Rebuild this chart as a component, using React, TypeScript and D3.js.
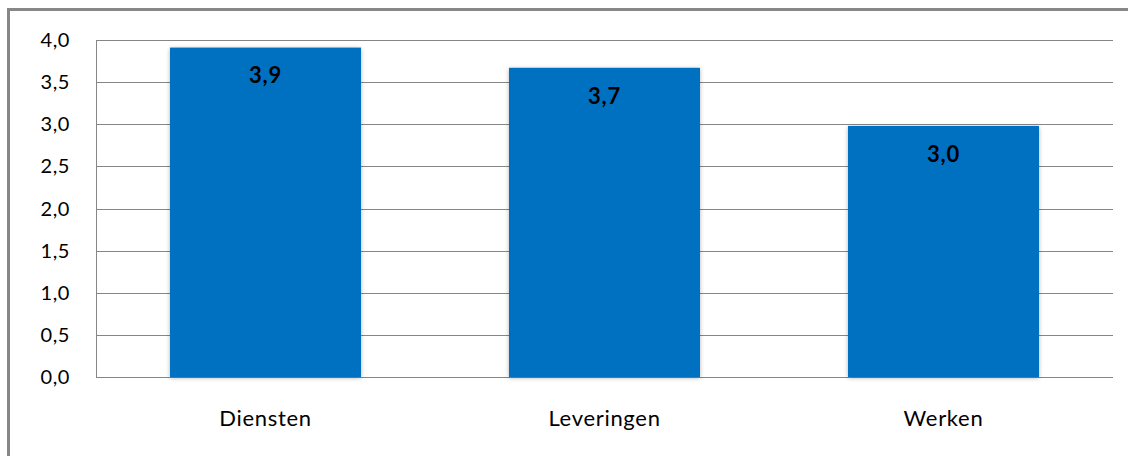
import React from "react";
import * as d3 from "d3";

const categories = ["Diensten", "Leveringen", "Werken"];
const values = [3.91, 3.67, 2.98];
const yTicks = [0, 0.5, 1, 1.5, 2, 2.5, 3, 3.5, 4];

const W = 1128;
const H = 456;
const plot = { left: 96, right: 1113, top: 40, bottom: 377 };
const FONT = "Lato, 'Open Sans', sans-serif";
const fmt = (v: number) => v.toFixed(1).replace(".", ",");

export default function App() {
  const y = d3.scaleLinear().domain([0, 4]).range([plot.bottom, plot.top]);
  const x = d3
    .scaleBand<string>()
    .domain(categories)
    .range([plot.left, plot.right])
    .paddingInner(0.4366)
    .paddingOuter(0.2183);

  return (
    <svg
      width={W}
      height={H}
      style={{ position: "absolute", left: 0, top: 0, background: "#fff" }}
    >
      <defs>
        <filter id="sh" x="-10%" y="-10%" width="120%" height="120%">
          <feDropShadow dx="0" dy="1" stdDeviation="2" floodColor="#000" floodOpacity="0.3" />
        </filter>
      </defs>
      <rect x={0} y={0} width={W} height={H} fill="#fff" />
      {/* outer frame */}
      <rect x={8.5} y={9.5} width={W + 20} height={H + 20} fill="none" stroke="#878787" strokeWidth={3} />
      {/* gridlines */}
      {yTicks.map((t) => (
        <line
          key={t}
          x1={plot.left}
          x2={plot.right}
          y1={Math.round(y(t)) + 0.5}
          y2={Math.round(y(t)) + 0.5}
          stroke="#868686"
          strokeWidth={1}
        />
      ))}
      {/* y axis line */}
      <line x1={plot.left + 0.5} x2={plot.left + 0.5} y1={plot.top} y2={plot.bottom + 0.5} stroke="#868686" />
      {/* y tick labels */}
      {yTicks.map((t) => (
        <text
          key={"l" + t}
          x={70}
          y={y(t)}
          dy="0.35em"
          textAnchor="end"
          fontFamily={FONT}
          fontSize={20}
          letterSpacing={0.6}
          fill="#000"
        >
          {fmt(t)}
        </text>
      ))}
      {/* bars */}
      {categories.map((c, i) => (
        <rect
          key={c}
          x={x(c)!}
          y={y(values[i])}
          width={x.bandwidth()}
          height={y(0) - y(values[i])}
          fill="#0070C0"
          filter="url(#sh)"
        />
      ))}
      {/* value labels */}
      {categories.map((c, i) => (
        <text
          key={"v" + c}
          x={x(c)! + x.bandwidth() / 2}
          y={y(values[i]) + 28}
          dy="0.35em"
          textAnchor="middle"
          fontFamily={FONT}
          fontWeight="bold"
          fontSize={22}
          letterSpacing={0.8}
          fill="#000"
        >
          {fmt(values[i])}
        </text>
      ))}
      {/* category labels */}
      {categories.map((c) => (
        <text
          key={"c" + c}
          x={x(c)! + x.bandwidth() / 2}
          y={418}
          dy="0.35em"
          textAnchor="middle"
          fontFamily={FONT}
          fontSize={22}
          letterSpacing={0.7}
          fill="#000"
        >
          {c}
        </text>
      ))}
    </svg>
  );
}
